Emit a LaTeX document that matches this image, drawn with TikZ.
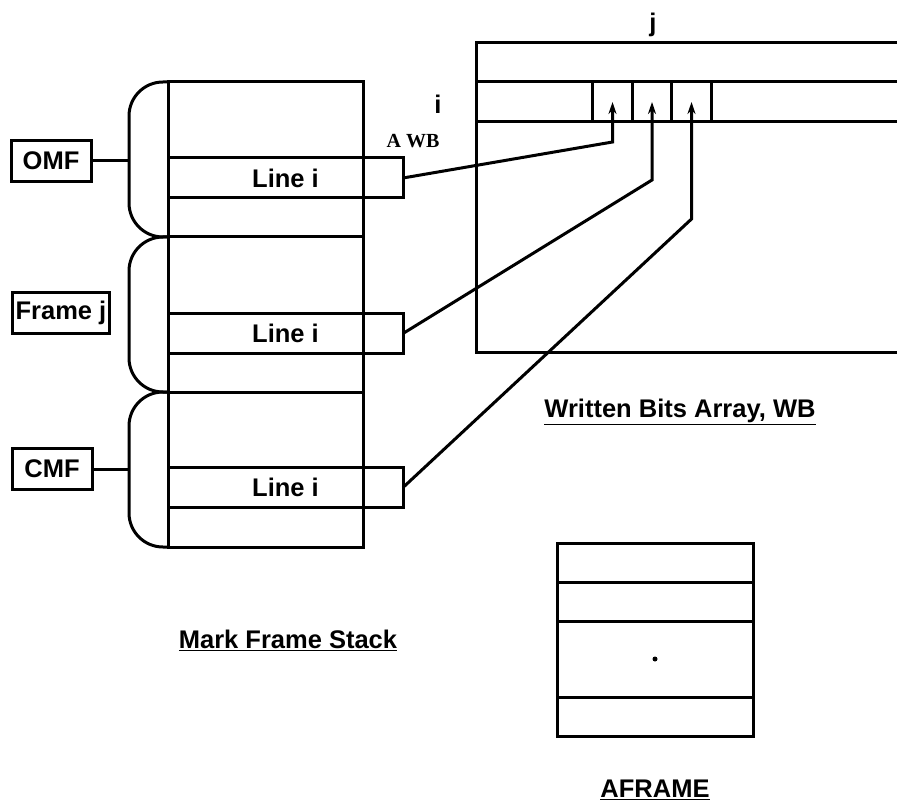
\documentclass[tikz,border=0pt]{standalone}
\usepackage{fontspec}
\setsansfont{Liberation Sans}
\newfontfamily\awbfont{Liberation Serif}
\usetikzlibrary{arrows.meta, positioning}

\begin{document}
\begin{tikzpicture}[
      x=1pt, y=-1pt, line width=3pt,
      every node/.style={font=\sffamily\bfseries\fontsize{25.5}{30}\selectfont},
      frm/.style={draw, minimum width=195, minimum height=155, inner sep=0pt, outer sep=0pt},
      row/.style={draw, minimum width=235, minimum height=40, inner sep=0pt, outer sep=0pt},
      tag/.style={draw, minimum width=80, minimum height=41, inner xsep=3pt, inner ysep=0pt},
      cell/.style={draw, minimum width=39.5, minimum height=40, inner sep=0pt, outer sep=0pt},
      blk/.style={draw, minimum width=196, inner sep=0pt, outer sep=0pt},
      brace/.style={rounded corners=34pt},
      arr/.style={-{Stealth[length=12pt, width=8pt]}},
      title/.style={inner sep=0pt}
  ]
    \useasboundingbox (0,0) rectangle (897,805);
    \clip (0,0) rectangle (897,805);

    % Mark frame stack
    \node[frm] (fr1) at (265.5,159.5) {};
    \node[frm, below=0pt of fr1] (fr2) {};
    \node[frm, below=0pt of fr2] (fr3) {};

    \node[row] (ln1) at (285.5,178)   {Line i};
    \node[row] (ln2) at (285.5,333.5) {Line i};
    \node[row] (ln3) at (285.5,487.5) {Line i};

    \foreach \f in {fr1, fr2, fr3} {
      \coordinate (b-\f) at ([xshift=-39pt]\f.west);
      \draw[brace] (\f.north west) -| (b-\f) |- (\f.south west);
    }

    \node[tag] (omf) at (51,161) {OMF};
    \node[tag] (frj) at (61,313) {Frame j};
    \node[tag] (cmf) at (52,469) {CMF};
    \draw (omf) -- (omf -| b-fr1);
    \draw (cmf) -- (cmf -| b-fr3);

    % Written bits array
    \node[draw, anchor=north west, minimum width=470, minimum height=309,
          inner sep=0pt, outer sep=0pt] (wb) at (476,43) {};
    \node[draw, anchor=north west, minimum width=470, minimum height=40,
          inner sep=0pt, outer sep=0pt] (rowi) at (476,82) {};
    \node[cell] (c1) at (612.5,102) {};
    \node[cell, right=0pt of c1] (c2) {};
    \node[cell, right=0pt of c2] (c3) {};

    \node (jlab) at (653,25)  {j};
    \node (ilab) at (438,104) {i};
    \node[font=\awbfont\bfseries\fontsize{20}{22}\selectfont] (awb) at (413,141) {A WB};

    \path (c1) ++(0,40)  coordinate (k1);
    \path (c2) ++(0,78)  coordinate (k2);
    \path (c3) ++(0,117) coordinate (k3);
    \draw[arr] (ln1.east) -- (k1) -- (c1.center);
    \draw[arr] (ln2.east) -- (k2) -- (c2.center);
    \draw[arr] (ln3.east) -- (k3) -- (c3.center);

    % AFRAME
    \node[blk, minimum height=39] (af1) at (655,562.5) {};
    \node[blk, minimum height=39, below=0pt of af1] (af2) {};
    \node[blk, minimum height=76, below=0pt of af2] (af3) {};
    \node[blk, minimum height=39, below=0pt of af3] (af4) {};
    \fill (af3.center) circle (2.5);

    % titles
    \node[title] (wbt) at (680,412) {\underline{Written Bits Array, WB}};
    \node[title] (mfs) at (288,640) {\underline{Mark Frame Stack}};
    \node[title] (aft) at (655,790) {\underline{AFRAME}};
  \end{tikzpicture}
\end{document}
